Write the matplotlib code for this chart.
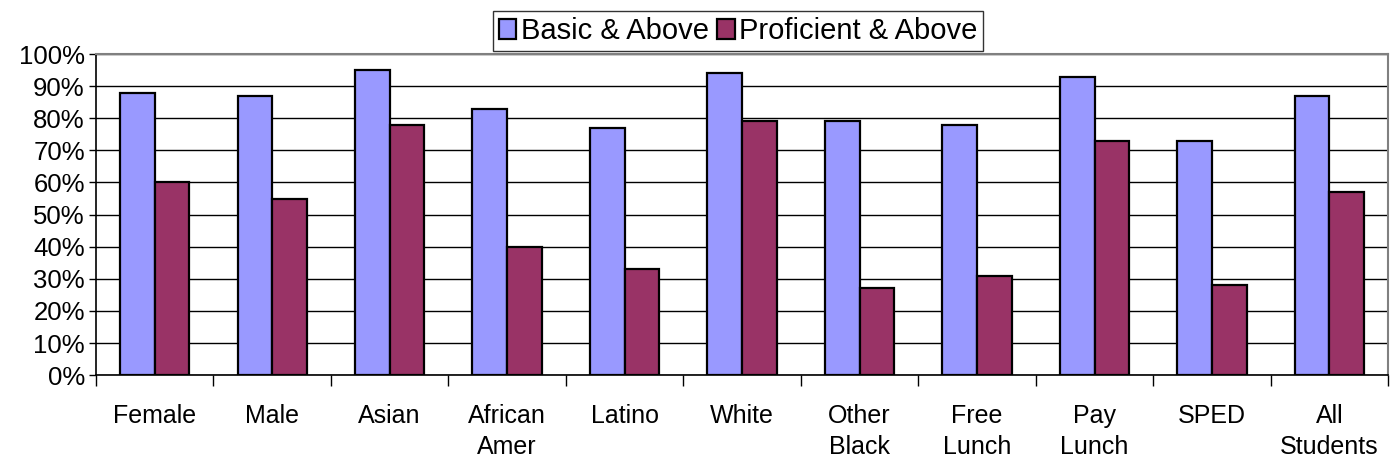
import matplotlib.pyplot as plt
import numpy as np
from matplotlib.ticker import FixedLocator, NullFormatter

plt.rcParams['font.family'] = ['Liberation Sans', 'DejaVu Sans']

# data
categories = ['Female', 'Male', 'Asian', 'African\nAmer', 'Latino', 'White',
              'Other\nBlack', 'Free\nLunch', 'Pay\nLunch', 'SPED', 'All\nStudents']
basic_above = [88, 87, 95, 83, 77, 94, 79, 78, 93, 73, 87]
proficient_above = [60, 55, 78, 40, 33, 79, 27, 31, 73, 28, 57]
series_names = ['Basic & Above', 'Proficient & Above']

fig = plt.figure(figsize=(13.91, 4.66), dpi=100)
ax = fig.add_axes([0.069, 0.195, 0.929, 0.689])

x = np.arange(len(categories))
w = 0.295
ax.bar(x - w / 2, basic_above, w, color='#9999FF', edgecolor='black', linewidth=1.6,
       label=series_names[0], zorder=3)
ax.bar(x + w / 2, proficient_above, w, color='#993366', edgecolor='black', linewidth=1.6,
       label=series_names[1], zorder=3)

ax.set_xlim(-0.5, len(categories) - 0.5)
ax.set_ylim(0, 100)
ax.set_yticks(range(0, 101, 10))
ax.set_yticklabels([f'{v}%' for v in range(0, 101, 10)])
ax.yaxis.grid(True, color='black', linewidth=1, zorder=0)

# category labels centred, tick marks between categories
ax.set_xticks(x)
ax.set_xticklabels(categories, linespacing=1.35)
ax.tick_params(axis='x', which='major', length=0, pad=21, labelsize=18)
ax.xaxis.set_minor_locator(FixedLocator(np.arange(-0.5, len(categories), 1)))
ax.xaxis.set_minor_formatter(NullFormatter())
ax.tick_params(axis='x', which='minor', length=8, width=1, direction='out')
ax.tick_params(axis='y', length=5, width=1, labelsize=18.5, pad=3)

for s in ['top', 'right']:
    ax.spines[s].set_color('#808080')
    ax.spines[s].set_linewidth(1.5)
for s in ['left', 'bottom']:
    ax.spines[s].set_color('black')
    ax.spines[s].set_linewidth(1.2)

leg = ax.legend(loc='lower center', bbox_to_anchor=(0.497, 1.01), ncol=2, fontsize=21,
                frameon=True, fancybox=False, edgecolor='black', handlelength=0.6,
                handleheight=0.7, handletextpad=0.15, columnspacing=0.3,
                borderpad=0.2, borderaxespad=0)
leg.get_frame().set_linewidth(1)

fig.savefig('out.png', dpi=100)
